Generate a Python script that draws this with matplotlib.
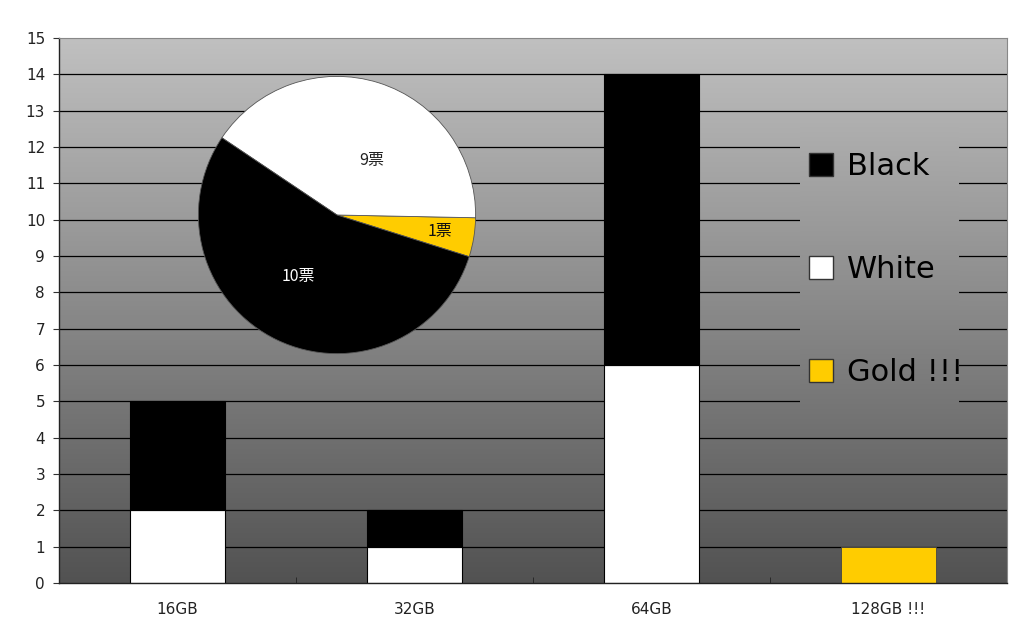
import numpy as np
import matplotlib
matplotlib.use("Agg")
import matplotlib.pyplot as plt
from matplotlib.patches import Patch

plt.rcParams['font.family'] = ['DejaVu Sans', 'Noto Sans CJK JP']

categories = ["16GB", "32GB", "64GB", "128GB !!!"]
white_vals = [2, 1, 6, 0]
black_vals = [3, 1, 8, 0]
gold_vals = [0, 0, 0, 1]
pie_labels = ["1票", "9票", "10票"]   # gold, white, black
y_ticks = list(range(0, 16))

GOLD = "#FFCC00"

fig = plt.figure(figsize=(10.24, 6.41), dpi=100)
ax = fig.add_axes([59/1024, 1-583/641, 948/1024, 545/641])

x = np.arange(len(categories))

# gradient background
top_c = np.array([192, 192, 192]) / 255
bot_c = np.array([82, 82, 82]) / 255
def grad(y0, y1, n=256):
    t = np.linspace(y1 / 15, y0 / 15, n)[:, None]
    img = bot_c[None, None, :] * (1 - t[..., None]) + top_c[None, None, :] * t[..., None]
    return img
ax.imshow(grad(0, 15), extent=[-0.5, 3.5, 0, 15], aspect='auto', zorder=0, interpolation='bilinear')

# gridlines
for v in y_ticks[1:-1]:
    ax.axhline(v, color='black', lw=0.9, zorder=1)

# legend backdrop hides gridlines
lx0, lx1 = 2.627, 3.294
ly0, ly1 = 4.62, 12.52
ax.imshow(grad(ly0, ly1), extent=[lx0, lx1, ly0, ly1], aspect='auto', zorder=1.5, interpolation='bilinear')
ax.set_xlim(-0.5, len(categories) - 0.5)
ax.set_ylim(0, 15)

w = 0.4
ax.bar(x, white_vals, w, color='white', edgecolor='black', lw=0.8, zorder=2)
ax.bar(x, black_vals, w, bottom=white_vals, color='black', edgecolor='black', lw=0.8, zorder=2)
ax.bar(x, gold_vals, w, color=GOLD, edgecolor='#444444', lw=0.6, zorder=2)

ax.set_yticks(y_ticks)
ax.set_yticklabels([str(v) for v in y_ticks], fontsize=11, color='#222222')
ax.set_xticks(x)
ax.set_xticklabels(categories, fontsize=11, color='#222222')
ax.tick_params(axis='x', length=0, pad=14)
ax.set_xticks(np.arange(0.5, len(categories) - 1, 1), minor=True)
ax.tick_params(axis='x', which='minor', direction='in', length=4, color='#222222')
ax.tick_params(axis='y', length=4, direction='out', color='#333333', pad=6)
for s in ['top', 'right']:
    ax.spines[s].set_color('#888888')
    ax.spines[s].set_linewidth(0.8)
for s in ['left', 'bottom']:
    ax.spines[s].set_color('#222222')
    ax.spines[s].set_linewidth(1.0)

# legend
handles = [Patch(facecolor='black', edgecolor='#333333', label='Black'),
           Patch(facecolor='white', edgecolor='#333333', label='White'),
           Patch(facecolor=GOLD, edgecolor='#333333', label='Gold !!!')]
leg = ax.legend(handles=handles, loc='upper left', bbox_to_anchor=(809/1024, 1-152/641),
                bbox_transform=fig.transFigure, frameon=False, fontsize=22,
                handlelength=0.8, handleheight=0.8, handletextpad=0.45,
                labelspacing=2.42, borderpad=0, borderaxespad=0)
leg.set_zorder(5)

# pie inset
white_total = sum(white_vals)
black_total = sum(black_vals)
gold_total = sum(gold_vals)
pie_vals = [gold_total, white_total, black_total]
pax = fig.add_axes([(337-140)/1024, 1-(215+140)/641, 280/1024, 280/641])
wedges, _ = pax.pie(pie_vals, colors=[GOLD, 'white', 'black'], startangle=-17.5,
                    counterclock=True, radius=1.0,
                    wedgeprops=dict(edgecolor='#555555', linewidth=0.6))
pax.set_xlim(-1.01, 1.01)
pax.set_ylim(-1.01, 1.01)
pax.set_aspect('equal')
pax.axis('off')
label_pos = [(0.75, -9.3), (0.47, 57.5), (0.52, 238)]
label_col = ['#111111', '#222222', 'white']
for lab, (r, a), c in zip(pie_labels, label_pos, label_col):
    pax.text(r * np.cos(np.radians(a)), r * np.sin(np.radians(a)), lab,
             ha='center', va='center', fontsize=11.5, color=c,
             family=['Noto Sans CJK JP', 'DejaVu Sans'])

fig.savefig("out.png", dpi=100)
